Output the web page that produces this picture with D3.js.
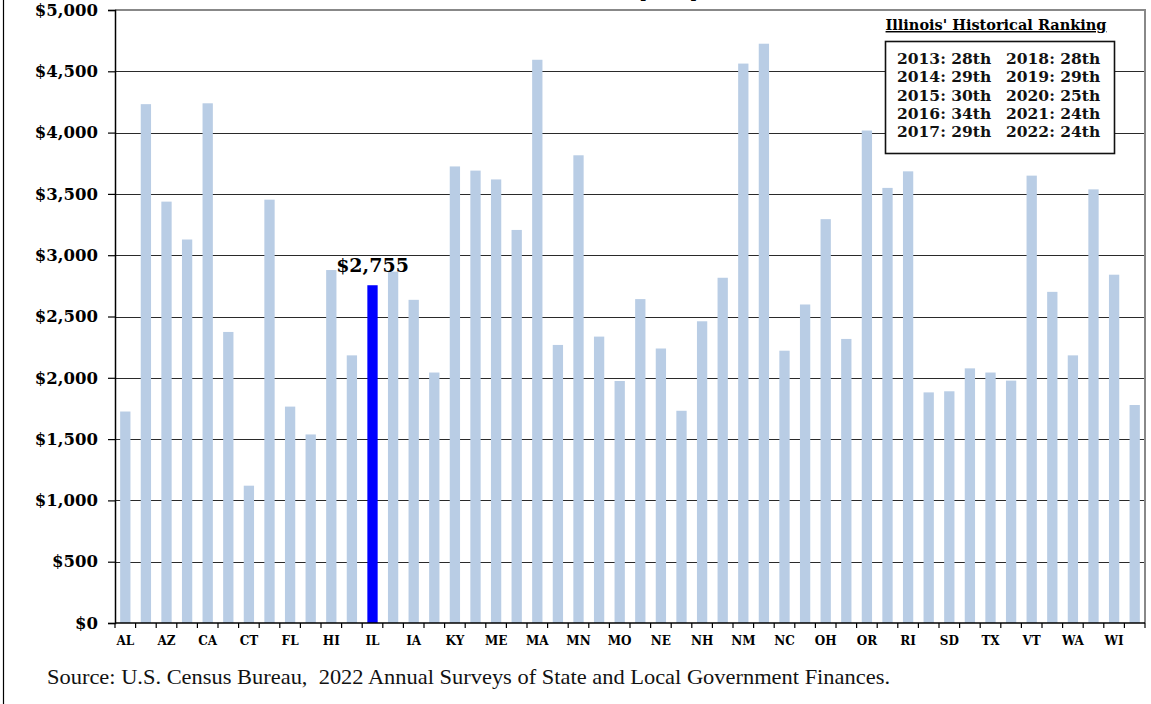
<!DOCTYPE html>
<html>
<head>
<meta charset="utf-8">
<script src="https://cdn.jsdelivr.net/npm/d3@7"></script>
<style>
  body { margin: 0; background: #fff; }
  svg { display: block; }
</style>
</head>
<body>
<div id="chart"></div>
<script>
// state abbreviations, alphabetical by state name
var states = ["AL","AK","AZ","AR","CA","CO","CT","DE","FL","GA","HI","ID","IL","IN","IA","KS",
  "KY","LA","ME","MD","MA","MI","MN","MS","MO","MT","NE","NV","NH","NJ","NM","NY",
  "NC","ND","OH","OK","OR","PA","RI","SC","SD","TN","TX","UT","VT","VA","WA","WV","WI","WY"];
// per capita dollars
var values = [1725,4232,3437,3128,4239,2374,1120,3453,1765,1538,2879,2183,2755,2866,2636,2043,
  3724,3690,3618,3206,4594,2268,3815,2336,1974,2642,2239,1731,2461,2816,4563,4725,
  2221,2598,3294,2317,4017,3549,3684,1881,1890,2077,2043,1977,3649,2701,2183,3537,2841,1778];
var highlight = "IL";
var yTicks = [0,500,1000,1500,2000,2500,3000,3500,4000,4500,5000];
var rankLeft = ["2013: 28th","2014: 29th","2015: 30th","2016: 34th","2017: 29th"];
var rankRight = ["2018: 28th","2019: 29th","2020: 25th","2021: 24th","2022: 24th"];

var data = states.map(function(s, i) { return {state: s, value: values[i]}; });

var W = 1151, H = 704;
var margin = {top: 10, right: 6, bottom: 81, left: 115};

var svg = d3.select("#chart").append("svg")
  .attr("width", W).attr("height", H);

var x = d3.scaleBand()
  .domain(states)
  .range([margin.left, W - margin.right])
  .paddingInner(0.5)
  .paddingOuter(0.25);

var y = d3.scaleLinear()
  .domain([0, 5000])
  .range([H - margin.bottom, margin.top]);

var serif = "'DejaVu Serif', serif";

// outer frame (left edge only visible)
svg.append("line")
  .attr("x1", 3.5).attr("x2", 3.5).attr("y1", 0).attr("y2", H)
  .attr("stroke", "#000").attr("stroke-width", 1.2);

// title, cut off at the very top like the original
svg.append("text")
  .attr("x", 595).attr("y", -3)
  .attr("text-anchor", "middle")
  .attr("font-family", serif).attr("font-weight", "bold").attr("font-size", 18)
  .attr("textLength", 370).attr("lengthAdjust", "spacingAndGlyphs")
  .text("(State and Local Combined, per capita, 2022)");

// gridlines
svg.append("g")
  .selectAll("line")
  .data(yTicks.filter(function(d) { return d > 0 && d < 5000; }))
  .enter().append("line")
  .attr("x1", margin.left).attr("x2", W - margin.right)
  .attr("y1", function(d) { return Math.round(y(d)) + 0.5; })
  .attr("y2", function(d) { return Math.round(y(d)) + 0.5; })
  .attr("stroke", "#2a2a2a").attr("stroke-width", 1);

// plot border top and right (gray)
svg.append("path")
  .attr("d", "M" + margin.left + "," + y(5000) + "H" + (W - margin.right) + "V" + y(0))
  .attr("fill", "none").attr("stroke", "#888").attr("stroke-width", 2);

// bars
svg.append("g")
  .selectAll("rect")
  .data(data)
  .enter().append("rect")
  .attr("x", function(d) { return x(d.state); })
  .attr("width", x.bandwidth())
  .attr("y", function(d) { return y(d.value); })
  .attr("height", function(d) { return y(0) - y(d.value); })
  .attr("fill", function(d) { return d.state == highlight ? "#0000ff" : "#b9cde5"; });

// value label on Illinois
var il = data.filter(function(d) { return d.state == highlight; })[0];
svg.append("text")
  .attr("x", x(il.state) + x.bandwidth() / 2)
  .attr("y", y(il.value) - 13)
  .attr("text-anchor", "middle")
  .attr("font-family", serif).attr("font-weight", "bold").attr("font-size", 19)
  .text("$" + d3.format(",")(il.value));

// y axis
var yAxis = svg.append("g")
  .attr("transform", "translate(" + margin.left + ",0)")
  .call(d3.axisLeft(y).tickValues(yTicks).tickSize(7).tickPadding(10)
    .tickFormat(function(d) { return "$" + d3.format(",")(d); }));
yAxis.select(".domain").attr("stroke", "#000").attr("stroke-width", 1.5);
yAxis.selectAll(".tick line").attr("stroke", "#000").attr("stroke-width", 1.2);
yAxis.selectAll("text")
  .attr("font-family", serif).attr("font-weight", "bold").attr("font-size", 16.5)
  .attr("fill", "#000");

// x axis: line, ticks on category boundaries, every other label
var step = x.step();
var bounds = states.map(function(s) { return x(s) - step * 0.25; });
bounds.push(x(states[states.length - 1]) + step * 0.75);

var xg = svg.append("g");
xg.append("line")
  .attr("x1", margin.left).attr("x2", W - margin.right)
  .attr("y1", y(0)).attr("y2", y(0))
  .attr("stroke", "#000").attr("stroke-width", 1.5);
xg.selectAll("line.tk")
  .data(bounds)
  .enter().append("line")
  .attr("class", "tk")
  .attr("x1", function(d) { return d; }).attr("x2", function(d) { return d; })
  .attr("y1", y(0)).attr("y2", y(0) + 5)
  .attr("stroke", "#000").attr("stroke-width", 1.2);
xg.selectAll("text")
  .data(states.filter(function(s, i) { return i % 2 == 0; }))
  .enter().append("text")
  .attr("x", function(d) { return x(d) + x.bandwidth() / 2; })
  .attr("y", y(0) + 22)
  .attr("text-anchor", "middle")
  .attr("font-family", serif).attr("font-weight", "bold").attr("font-size", 12)
  .text(function(d) { return d; });

// source note
svg.append("text")
  .attr("x", 47).attr("y", 684)
  .attr("font-family", "'Liberation Serif', serif").attr("font-size", 21)
  .attr("fill", "#111")
  .attr("xml:space", "preserve")
  .attr("textLength", 843).attr("lengthAdjust", "spacingAndGlyphs")
  .text("Source: U.S. Census Bureau,  2022 Annual Surveys of State and Local Government Finances.");

// ranking legend
svg.append("text")
  .attr("x", 996).attr("y", 30)
  .attr("text-anchor", "middle")
  .attr("font-family", serif).attr("font-weight", "bold").attr("font-size", 14.5)
  .attr("text-decoration", "underline")
  .text("Illinois' Historical Ranking");

svg.append("rect")
  .attr("x", 885.5).attr("y", 41.5).attr("width", 229).attr("height", 112)
  .attr("fill", "#fff").attr("stroke", "#111").attr("stroke-width", 1.6);

var rows = d3.range(rankLeft.length);
var rk = svg.append("g")
  .attr("font-family", serif).attr("font-weight", "bold").attr("font-size", 15.5)
  .attr("fill", "#111");
rk.selectAll("text.l").data(rows).enter().append("text")
  .attr("class", "l")
  .attr("x", 897).attr("y", function(i) { return 64 + i * 18.3; })
  .text(function(i) { return rankLeft[i]; });
rk.selectAll("text.r").data(rows).enter().append("text")
  .attr("class", "r")
  .attr("x", 1006).attr("y", function(i) { return 64 + i * 18.3; })
  .text(function(i) { return rankRight[i]; });
</script>
</body>
</html>
